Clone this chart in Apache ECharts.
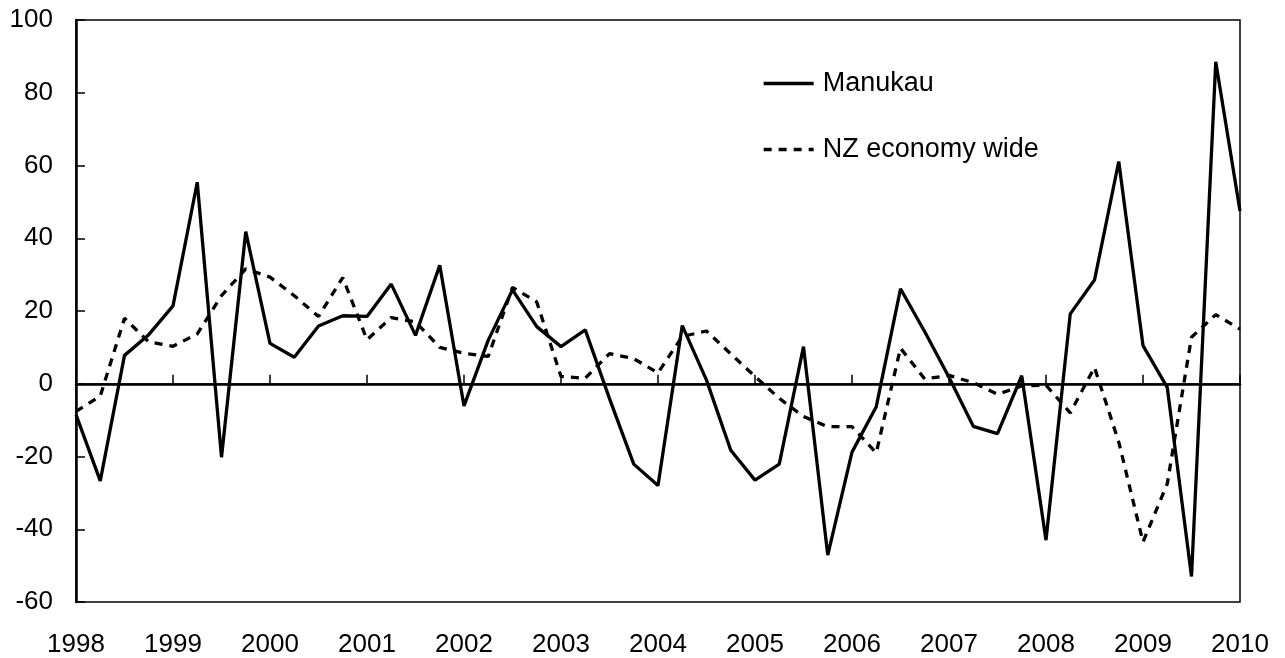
<!DOCTYPE html>
<html>
<head>
<meta charset="utf-8">
<script src="https://cdn.jsdelivr.net/npm/echarts@6/dist/echarts.min.js"></script>
<style>
  html, body { margin: 0; padding: 0; background: #fff; }
  #chart { width: 1285px; height: 658px; }
</style>
</head>
<body>
<div id="chart"></div>
<script>
// year tick labels, one per year boundary
var years = ['1998', '1999', '2000', '2001', '2002', '2003', '2004', '2005', '2006', '2007', '2008', '2009', '2010'];

// quarterly readings, 1998 Q1 .. 2010 Q1
var manukau = [
  -8.5, -26.7, 7.8, 13.5, 21.4, 55.4, -20.2, 41.8,
  11.1, 7.3, 15.9, 18.7, 18.5, 27.4, 13.3, 32.6,
  -6.1, 12.0, 25.8, 15.7, 10.2, 14.8, -4.1, -22.1,
  -28.0, 16.0, 1.0, -18.3, -26.5, -22.1, 10.2, -47.1,
  -18.8, -6.3, 26.1, 14.3, 1.8, -11.7, -13.7, 2.2,
  -43.0, 19.2, 28.5, 61.1, 10.5, -1.0, -53.0, 88.5,
  47.5
];
var nzEconomy = [
  -7.6, -3.4, 18.0, 11.5, 10.3, 13.7, 24.2, 31.6,
  29.3, 24.2, 18.5, 29.2, 12.1, 18.2, 17.0, 10.0,
  8.4, 7.5, 26.5, 22.5, 2.0, 1.5, 8.3, 6.9,
  3.0, 13.0, 14.5, 8.2, 2.0, -4.0, -9.0, -11.8,
  -11.8, -19.0, 9.8, 1.3, 2.3, 0.3, -2.9, -0.6,
  -0.4, -8.0, 4.5, -16.0, -43.5, -27.5, 12.8, 19.0,
  15.0
];

// category per quarter, label shown only on Q1
var quarters = [];
for (var i = 0; i < years.length - 1; i++) {
  for (var q = 1; q <= 4; q++) quarters.push(years[i] + ' Q' + q);
}
quarters.push(years[years.length - 1] + ' Q1');

var font = "'Liberation Sans', Arial, sans-serif";

var chart = echarts.init(document.getElementById('chart'));

var option = {
  animation: false,
  backgroundColor: '#fff',
  grid: {
    left: 76,
    right: 45,
    top: 20,
    bottom: 55,
    show: true,
    borderColor: '#000',
    borderWidth: 1.5
  },
  legend: {
    orient: 'vertical',
    left: 757,
    top: 65,
    itemWidth: 50,
    itemHeight: 20,
    itemGap: 39,
    data: ['Manukau', 'NZ economy wide'],
    itemStyle: { opacity: 0 },
    lineStyle: { width: 3.3 },
    textStyle: {
      color: '#000',
      fontFamily: font,
      fontSize: 27,
      lineHeight: 27,
      padding: [0, 0, 0, 4]
    }
  },
  xAxis: {
    type: 'category',
    boundaryGap: false,
    data: quarters,
    axisLine: { lineStyle: { color: '#000', width: 2.5 } },
    axisTick: { inside: true, length: 9, interval: 3, lineStyle: { color: '#000', width: 1.5 } },
    axisLabel: {
      interval: 3,
      margin: 30,
      color: '#000',
      fontFamily: font,
      fontSize: 26,
      formatter: function (v) { return v.slice(0, 4); }
    },
    splitLine: { show: false }
  },
  yAxis: {
    type: 'value',
    min: -60,
    max: 100,
    interval: 20,
    axisLine: { show: true, lineStyle: { color: '#000', width: 2.5 } },
    axisTick: { show: true, inside: true, length: 9, lineStyle: { color: '#000', width: 1.5 } },
    axisLabel: {
      margin: 23,
      color: '#000',
      fontFamily: font,
      fontSize: 26
    },
    splitLine: { show: false }
  },
  series: [{
    name: 'Manukau',
    type: 'line',
    data: manukau,
    symbol: 'none',
    lineStyle: { color: '#000', width: 3.3, type: 'solid' },
    itemStyle: { color: '#000' },
    markLine: {
      silent: true,
      symbol: 'none',
      label: { show: false },
      lineStyle: { color: '#000', width: 1.5, type: 'solid' },
      data: [{ yAxis: 0 }]
    },
    z: 3
  }, {
    name: 'NZ economy wide',
    type: 'line',
    data: nzEconomy,
    symbol: 'none',
    lineStyle: { color: '#000', width: 3.3, type: [8, 7] },
    itemStyle: { color: '#000' },
    z: 2
  }]
};

chart.setOption(option);
</script>
</body>
</html>
